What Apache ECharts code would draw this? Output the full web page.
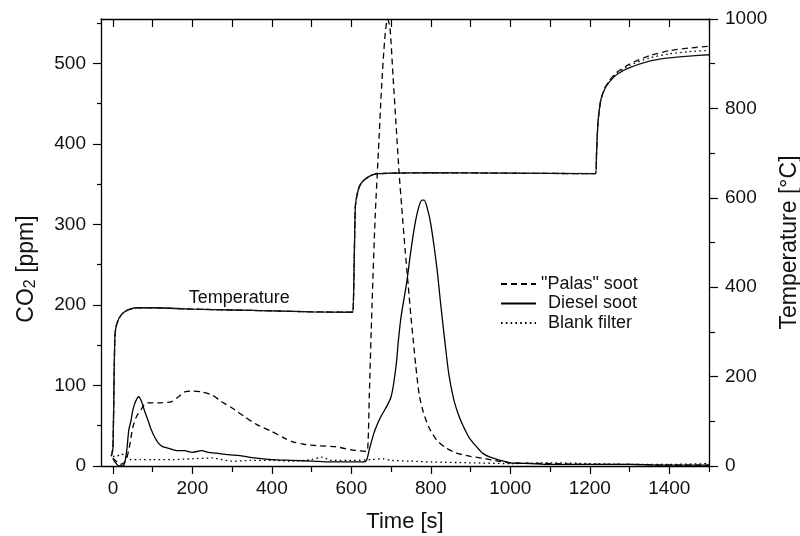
<!DOCTYPE html>
<html><head><meta charset="utf-8">
<script src="https://cdn.jsdelivr.net/npm/echarts@6/dist/echarts.min.js"></script>
<style>html,body{margin:0;padding:0;background:#fff}#c{width:800px;height:536px}</style>
</head><body><div id="c"></div>
<script>
// ---- tick labels ----
const xMajorTicks = [0, 200, 400, 600, 800, 1000, 1200, 1400];
const xMinorTicks = [100, 300, 500, 700, 900, 1100, 1300, 1500];
const xTopTicks = [0, 100, 200, 300, 400, 500, 600, 700, 800, 900, 1000, 1100, 1200, 1300, 1400, 1500];
const yLeftMajor = [0, 100, 200, 300, 400, 500];
const yLeftMinor = [50, 150, 250, 350, 450, 550];
const yRightMajor = [0, 200, 400, 600, 800, 1000];
const yRightMinor = [100, 300, 500, 700, 900];

// ---- "Palas" soot CO2 [ppm] ----
const palasTime = [0, 8, 18, 28, 35, 42, 50, 60, 71, 80, 90, 120, 148, 165, 181, 200, 223, 250, 273, 300, 332, 360, 399, 430, 453, 480, 520, 560, 600, 638, 642, 645, 652, 660, 668, 676, 684, 691, 697, 705, 713, 720, 727, 735, 743, 750, 756, 762, 771, 781, 795, 815, 840, 865, 900, 932, 970, 1000, 1100, 1200, 1300, 1400, 1500];
const palasCO2 = [10, 6, 2, 4, 10, 25, 48, 62, 70, 77, 78.5, 78.5, 80, 86, 92, 93, 92, 88, 80, 72, 61, 52, 43, 35, 30, 27, 25, 24, 20, 18, 30, 84, 200, 310, 390, 470, 530, 555, 545, 483, 420, 365, 320, 270, 225, 185, 155, 125, 88, 67, 48, 32, 22, 16, 12, 9.5, 6, 4, 3, 2, 2, 1, 1];

// ---- Diesel soot CO2 [ppm] ----
const dieselTime = [0, 5, 10, 15, 25, 30, 35, 40, 45, 50, 57, 65, 72, 80, 88, 95, 105, 115, 125, 140, 164, 180, 200, 223, 240, 260, 290, 320, 357, 400, 450, 500, 550, 600, 630, 638, 645, 655, 663, 675, 689, 700, 707, 714, 718, 725, 739, 750, 760, 770, 778, 783, 790, 800, 815, 825, 835, 845, 857, 870, 882, 898, 915, 930, 949, 975, 1000, 1050, 1100, 1200, 1300, 1400, 1500];
const dieselCO2 = [9, 5, 2, 0, 0, 5, 20, 45, 55, 69, 80, 86, 80, 68, 57, 47, 36, 28, 24, 22, 19, 19, 17, 19, 17, 16, 14, 13, 10, 8, 7, 6, 5, 5, 5, 7, 20, 38, 49, 62, 74, 86, 104, 131, 154, 185, 227, 268, 300, 322, 330, 330, 322, 300, 247, 200, 156, 115, 84, 63, 49, 34, 24, 16, 11, 7, 4, 3, 2, 2, 2, 1, 1];

// ---- Blank filter CO2 [ppm] ----
const blankTime = [0, 10, 20, 30, 45, 70, 100, 150, 200, 250, 300, 350, 400, 450, 500, 525, 550, 600, 650, 680, 700, 750, 800, 900, 1000, 1100, 1200, 1300, 1400, 1500];
const blankCO2 = [12, 12, 15, 13, 8, 8, 8, 8, 9, 10, 6, 7, 7, 6, 8, 11, 7, 7, 8, 9, 7, 6, 5, 4, 3, 4, 3, 2, 2, 3];

// ---- Temperature [°C] (one trace per run) ----
const tempTime = [-4, 0, 3, 5, 8, 15, 25, 40, 60, 100, 200, 300, 400, 500, 600, 604, 607, 610, 614, 620, 630, 645, 660, 700, 800, 1000, 1214, 1217, 1220, 1223, 1228, 1238, 1250, 1268, 1300, 1350, 1400, 1450, 1500];
const tempPalas  = [22, 40, 200, 290, 312, 330, 342, 350, 354, 354, 351, 349, 347, 345, 344, 344, 450, 580, 605, 625, 638, 648, 653, 655, 656, 655, 654, 700, 760, 790, 820, 846, 863, 881, 899, 918, 929, 935, 939];
const tempDiesel = [22, 40, 200, 290, 312, 330, 342, 350, 354, 354, 351, 349, 347, 345, 344, 344, 450, 580, 605, 625, 638, 648, 653, 655, 656, 655, 654, 700, 760, 790, 820, 844, 860, 876, 891, 906, 913, 917, 920];
const tempBlank  = [22, 40, 200, 290, 312, 330, 342, 350, 354, 354, 351, 349, 347, 345, 344, 344, 450, 580, 605, 625, 638, 648, 653, 655, 656, 655, 654, 700, 760, 790, 820, 845, 862, 879, 896, 913, 922, 927, 930];

const FONT = 'Liberation Sans, Arial, Helvetica, sans-serif';
const INK = '#111';
const zip = (a, b) => a.map((t, i) => [t, b[i]]);
const plain = v => String(v);

const chart = echarts.init(document.getElementById('c'), null, {renderer: 'canvas'});

const xBase = {type: 'value', min: -30, max: 1500, splitLine: {show: false}, axisLine: {onZero: false, lineStyle: {color: '#000', width: 1.3}}};
const yLBase = {type: 'value', min: 0, max: 555, splitLine: {show: false}, position: 'left', axisLine: {onZero: false, lineStyle: {color: '#000', width: 1.3}}};
const yRBase = {type: 'value', min: 0, max: 1000, splitLine: {show: false}, position: 'right', axisLine: {onZero: false, lineStyle: {color: '#000', width: 1.3}}};

const dashed = [6, 4];
const dotted = [1.6, 3.2];

function co2Series(name, t, v, type) {
  return {name, type: 'line', xAxisIndex: 0, yAxisIndex: 0, data: zip(t, v), symbol: 'none', smooth: 0.25,
    lineStyle: {color: '#000', width: 1.3, type}, itemStyle: {color: '#000'}, z: 3};
}
function tempSeries(name, v, type) {
  return {name, type: 'line', xAxisIndex: 0, yAxisIndex: 2, data: zip(tempTime, v), symbol: 'none', smooth: 0.2,
    lineStyle: {color: '#111', width: 1.3, type}, z: 2};
}

chart.setOption({
  animation: false,
  backgroundColor: '#fff',
  textStyle: {fontFamily: FONT},
  grid: {left: 101, right: 91, top: 19, bottom: 70, containLabel: false, outerBoundsMode: 'none'},
  legend: {
    orient: 'vertical', left: 500, top: 275, padding: 0, itemWidth: 35, itemHeight: 14, itemGap: 1.5,
    itemStyle: {color: 'rgba(0,0,0,0)', borderColor: 'rgba(0,0,0,0)', borderWidth: 0, opacity: 0},
    textStyle: {fontSize: 18, color: INK, fontFamily: FONT, lineHeight: 16},
    data: [
      {name: '"Palas" soot'},
      {name: 'Diesel soot', textStyle: {padding: [0, 0, 0, 7]}},
      {name: 'Blank filter', textStyle: {padding: [0, 0, 0, 7]}}
    ],
    selectedMode: false
  },
  xAxis: [
    Object.assign({}, xBase, {position: 'bottom',
      axisTick: {show: true, inside: false, length: 8, customValues: xMajorTicks, lineStyle: {color: '#000', width: 1.2}},
      axisLabel: {customValues: xMajorTicks, formatter: plain, fontSize: 19, color: INK, margin: 13, fontFamily: FONT},
      name: 'Time [s]', nameLocation: 'middle', nameGap: 45,
      nameTextStyle: {fontSize: 22, color: INK, fontFamily: FONT}}),
    Object.assign({}, xBase, {position: 'bottom', axisLine: {show: false, onZero: false},
      axisTick: {show: true, inside: false, length: 6, customValues: xMinorTicks, lineStyle: {color: '#000', width: 1.2}},
      axisLabel: {show: false}}),
    Object.assign({}, xBase, {position: 'top',
      axisTick: {show: true, inside: true, length: 8, customValues: xTopTicks, lineStyle: {color: '#000', width: 1.2}},
      axisLabel: {show: false}})
  ],
  yAxis: [
    Object.assign({}, yLBase, {
      axisTick: {show: true, inside: false, length: 8, customValues: yLeftMajor, lineStyle: {color: '#000', width: 1.2}},
      axisLabel: {customValues: yLeftMajor, formatter: plain, fontSize: 19, color: INK, margin: 15, fontFamily: FONT}}),
    Object.assign({}, yLBase, {axisLine: {show: false, onZero: false},
      axisTick: {show: true, inside: false, length: 4, customValues: yLeftMinor, lineStyle: {color: '#000', width: 1.2}},
      axisLabel: {show: false}}),
    Object.assign({}, yRBase, {
      axisTick: {show: true, inside: false, length: 9, customValues: yRightMajor, lineStyle: {color: '#000', width: 1.2}},
      axisLabel: {customValues: yRightMajor, formatter: plain, fontSize: 19, color: INK, margin: 16, fontFamily: FONT},
      name: 'Temperature [°C]', nameLocation: 'middle', nameRotate: 90, nameGap: 60,
      nameTextStyle: {fontSize: 23, color: INK, fontFamily: FONT}}),
    Object.assign({}, yRBase, {axisLine: {show: false, onZero: false},
      axisTick: {show: true, inside: false, length: 6, customValues: yRightMinor, lineStyle: {color: '#000', width: 1.2}},
      axisLabel: {show: false}})
  ],
  series: [
    tempSeries('T palas', tempPalas, dashed),
    tempSeries('T diesel', tempDiesel, 'solid'),
    tempSeries('T blank', tempBlank, dotted),
    co2Series('"Palas" soot', palasTime, palasCO2, dashed),
    co2Series('Diesel soot', dieselTime, dieselCO2, 'solid'),
    co2Series('Blank filter', blankTime, blankCO2, dotted)
  ]
});

// annotations: left axis title and curve label
const tLabel = chart.convertToPixel({xAxisIndex: 0, yAxisIndex: 2}, [318, 376]);
chart.setOption({
  graphic: [
    {type: 'text', x: 25, y: 269, rotation: Math.PI / 2,
      style: {text: '{n|CO}{s|2}{n| [ppm]}', fill: INK, align: 'center', verticalAlign: 'middle',
        rich: {n: {fontSize: 23, fontFamily: FONT, fill: INK, verticalAlign: 'bottom', lineHeight: 27},
               s: {fontSize: 16, fontFamily: FONT, fill: INK, verticalAlign: 'bottom', lineHeight: 12}}}},
    {type: 'text', x: tLabel[0], y: tLabel[1], style: {text: 'Temperature', fontSize: 18, fontFamily: FONT, fill: INK, align: 'center', verticalAlign: 'middle'}}
  ]
});
</script></body></html>
